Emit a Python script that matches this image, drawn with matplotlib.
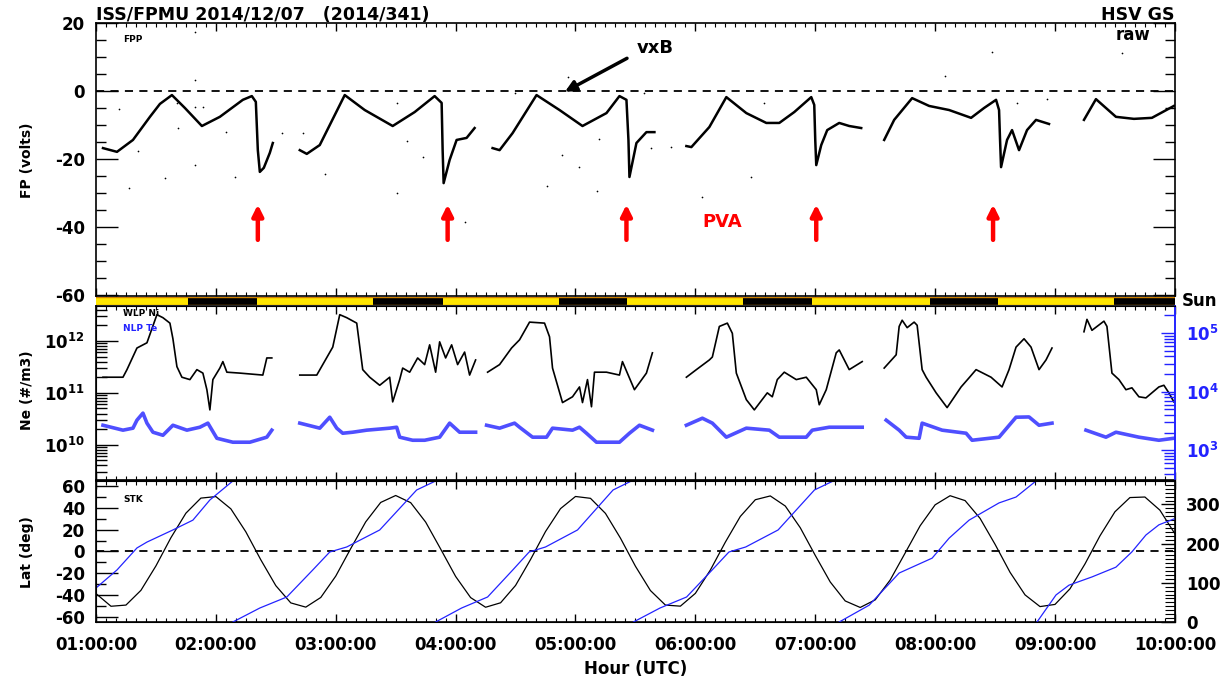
import numpy as np
import matplotlib
matplotlib.use("Agg")
import matplotlib.pyplot as plt
from matplotlib.ticker import MultipleLocator, FixedLocator, FixedFormatter, FuncFormatter, NullFormatter

plt.rcParams['font.family'] = 'DejaVu Sans'
plt.rcParams['font.weight'] = 'bold'
plt.rcParams['axes.unicode_minus'] = False

BLUE = '#2323ff'

# ── data (time = minutes after 01:00:00 UTC) ─────────────────────
fp_min = [
    [3.5, 10.5, 18.5, 27, 32, 38, 44.5, 53, 62, 73.5, 78, 80, 81, 82, 84, 87, 88.5],
    [102, 105.5, 112, 124.5, 134.5, 148.5, 159.5, 169.5, 173, 173.5, 174, 177, 180.5, 185.5, 189.5],
    [198.5, 202, 208.5, 220.5, 232, 243.5, 255.5, 262, 265.5, 266.5, 267, 270.5, 275.5, 279.5],
    [295.5, 298, 307, 315.5, 325.5, 335.5, 342, 349.5, 358, 359.5, 360, 360.5, 363, 366, 372, 377, 383],
    [394.5, 399.5, 408.5, 417, 427, 438, 444.5, 450.5, 452, 452.5, 453, 456, 458.5, 462, 466, 470.5, 477],
    [494.5, 500.5, 510.5, 519.5, 528.5, 539.5],
]
fp_volts = [
    [-16.8, -17.9, -14.4, -7.6, -3.8, -1.2, -5.0, -10.3, -7.6, -2.6, -1.5, -3.2, -17.4, -23.8, -22.6, -18.2, -15.3],
    [-17.4, -18.5, -15.9, -1.2, -5.6, -10.3, -6.2, -1.5, -3.5, -17.4, -27.1, -20.3, -14.4, -13.8, -10.9],
    [-16.8, -17.4, -12.4, -1.2, -5.6, -10.3, -6.5, -1.5, -2.6, -14.4, -25.3, -15.3, -12.1, -12.1],
    [-16.2, -16.5, -10.6, -1.8, -6.5, -9.4, -9.4, -6.2, -1.8, -4.1, -14.4, -21.8, -15.9, -11.5, -9.4, -10.3, -10.9],
    [-14.4, -8.5, -2.1, -4.4, -5.6, -7.9, -5.0, -2.6, -5.6, -14.4, -22.4, -14.4, -11.5, -17.4, -11.5, -8.5, -9.7],
    [-8.5, -2.4, -7.6, -8.2, -7.9, -4.4],
]
# stray FP samples
dot_min = [11.5, 21, 40.5, 41, 49.5, 53.5, 65, 49.5, 34.5, 16.5, 69.5, 93, 103.5, 114.5, 49.5, 49.5,
           150.5, 155.5, 163.5, 150.5, 184.5, 209.5, 233, 242, 225.5, 251, 236, 252, 288, 278,
           303.5, 328, 334.5, 274.5, 448.5, 425, 513.5, 461, 476]
dot_volts = [-5.3, -17.6, -3.5, -10.9, -4.7, -4.7, -12.1, -21.8, -25.6, -28.5, -25.3, -12.4, -12.4, -24.4, 17.4, 3.2,
             -3.5, -14.7, -19.4, -30, -38.5, -0.6, -18.8, -22.4, -27.9, -29.4, 4.1, -14.1, -16.5, -16.8,
             -31.2, -25.3, -3.5, -0.6, 11.5, 4.4, 11.2, -3.5, -2.4]

pva_min = [81, 176, 265.5, 360.5, 449]

sun_edges = [0, 46, 80.5, 138.5, 173.5, 231.5, 266, 324, 358.5, 417.5, 451.5, 509.5, 540]
sun_lit = [True, False, True, False, True, False, True, False, True, False, True, False]

ne_min = [
    [3.5, 13.5, 15.5, 20.5, 25.5, 29.5, 30.5, 33.5, 37, 38.5, 40.5, 43, 47, 50.5, 53.5, 55.5, 57, 58.5, 62, 63.5, 65.5, 72, 83.5, 85.5, 88],
    [102, 110.5, 118.5, 122, 125.5, 130.5, 133.5, 137, 142, 147, 148.5, 152, 153.5, 157, 161, 164.5, 167, 170, 172, 175, 178, 181, 184.5, 187, 190],
    [196, 202, 208, 212, 217, 224.5, 227, 228.5, 233.5, 238.5, 242, 243.5, 246, 248, 249.5, 255.5, 262, 263.5, 269.5, 275.5, 278.5],
    [295.5, 300.5, 307, 308.5, 312, 316, 318.5, 320.5, 325.5, 329.5, 336, 338.5, 341, 344.5, 350.5, 355.5, 360.5, 362, 365.5, 370.5, 372, 377, 383.5],
    [394.5, 400.5, 402, 403.5, 406, 409.5, 411, 413.5, 415.5, 420.5, 426, 433, 437, 440.5, 448, 453.5, 457, 460.5, 464.5, 468, 472, 475.5, 478.5],
    [494.5, 496, 498.5, 504.5, 506, 508.5, 512, 515.5, 518.5, 522, 525.5, 532, 534.5, 537, 539.5],
]
ne_m3 = [
    [2.0e11, 2.0e11, 2.8e11, 7.3e11, 9.2e11, 2.5e12, 3.2e12, 2.8e12, 2.2e12, 1.1e12, 3.2e11, 2.0e11, 1.8e11,
     2.8e11, 2.4e11, 1.15e11, 4.7e10, 1.8e11, 3.0e11, 4.0e11, 2.5e11, 2.4e11, 2.2e11, 4.7e11, 4.7e11],
    [2.2e11, 2.2e11, 7.6e11, 3.2e12, 2.8e12, 2.2e12, 2.8e11, 2.0e11, 1.4e11, 2.0e11, 6.7e10, 1.8e11, 3.0e11,
     2.5e11, 4.7e11, 3.5e11, 8.4e11, 2.5e11, 9.6e11, 4.7e11, 8.4e11, 3.5e11, 6.1e11, 2.2e11, 4.3e11],
    [2.5e11, 3.5e11, 7.3e11, 1.05e12, 2.3e12, 2.2e12, 1.2e12, 3.0e11, 6.5e10, 8.4e10, 1.3e11, 6.5e10, 1.8e11,
     5.4e10, 2.5e11, 2.5e11, 2.2e11, 4.0e11, 1.15e11, 2.4e11, 5.9e11],
    [2.0e11, 2.8e11, 4.3e11, 4.9e11, 1.9e12, 2.2e12, 1.4e12, 2.4e11, 7.4e10, 4.7e10, 1.0e11, 8.4e10, 1.8e11,
     2.5e11, 1.8e11, 2.0e11, 1.15e11, 5.9e10, 1.15e11, 5.9e11, 6.7e11, 2.8e11, 4.0e11],
    [3.0e11, 5.4e11, 1.9e12, 2.5e12, 1.8e12, 2.3e12, 2.0e12, 2.8e11, 2.0e11, 1.0e11, 5.2e10, 1.3e11, 1.95e11,
     2.8e11, 2.0e11, 1.3e11, 2.8e11, 7.6e11, 1.1e12, 7.6e11, 2.8e11, 4.3e11, 7.3e11],
    [1.5e12, 2.6e12, 1.6e12, 2.4e12, 1.9e12, 2.4e11, 1.8e11, 1.15e11, 1.25e11, 8.4e10, 8.0e10, 1.3e11, 1.4e11,
     1.0e11, 6.7e10],
]

te_min = [
    [3.5, 13.5, 18.5, 20.5, 23.5, 25.5, 28.5, 33.5, 38.5, 45.5, 52, 56, 60.5, 68.5, 77, 85.5, 88],
    [102, 112, 117, 120.5, 123.5, 128.5, 135.5, 147, 150.5, 152, 158.5, 164.5, 172, 177, 182, 190],
    [195.5, 202, 209.5, 212, 218.5, 225.5, 228.5, 238.5, 242, 245.5, 250.5, 262, 267, 272, 278.5],
    [295.5, 303.5, 308.5, 315.5, 325.5, 337, 342, 355.5, 358.5, 367, 383.5],
    [395.5, 402, 405.5, 412, 413.5, 423.5, 435.5, 438.5, 452, 460.5, 467, 472, 478.5],
    [495.5, 505.5, 510.5, 522, 532, 539.5],
]
te_kelvin = [
    [2670, 2200, 2380, 3260, 4300, 2900, 2030, 1800, 2670, 2200, 2470, 2900, 1600, 1370, 1370, 1670, 2200],
    [2900, 2380, 3660, 2380, 1950, 2030, 2200, 2380, 2470, 1670, 1480, 1480, 1670, 2900, 2030, 2030],
    [2670, 2380, 2900, 2470, 1670, 1670, 2380, 2200, 2470, 1950, 1370, 1370, 1950, 2670, 2200],
    [2670, 3520, 2900, 1670, 2380, 2200, 1670, 1670, 2200, 2470, 2470],
    [3260, 2200, 1670, 1600, 2900, 2200, 1950, 1480, 1670, 3660, 3700, 2670, 2900],
    [2200, 1670, 2030, 1670, 1480, 1600],
]

# latitude sampled every 7.5 min
lat_min = np.arange(0, 541, 7.5)
lat_deg = [-38.8, -50.5, -49.4, -35.8, -13.3, 12.7, 35.3, 49.2, 50.6, 39.3, 18.1, -7.7, -31.5,
           -47.4, -51.3, -42.4, -22.7, 2.7, 27.3, 45.2, 51.6, 45.0, 27.1, 2.3, -23.0, -42.5,
           -51.4, -47.3, -31.3, -7.4, 18.4, 39.5, 50.7, 49.0, 35.1, 12.3, -13.6, -36.0, -49.4,
           -50.4, -38.6, -17.1, 8.6, 32.3, 47.7, 51.2, 41.9, 21.9, -3.6, -28.1, -45.6, -51.6,
           -44.6, -26.3, -1.4, 23.7, 43.0, 51.4, 46.9, 30.5, 6.6, -19.2, -40.0, -50.8, -48.8,
           -34.4, -11.5, 14.4, 36.6, 49.7, 50.2, 38.1, 16.4]

lon_min = [
    [0, 10.5, 20.5, 25.5, 38.5, 48.5, 57, 68.5],
    [68.5, 82, 95.5, 108.5, 117, 125.5, 142, 160.5, 170],
    [170, 183, 196, 208.6, 216.8, 225, 241, 258.8, 268],
    [269, 282.3, 295.6, 308.4, 316.8, 325.2, 341.4, 359.6, 369],
    [372, 387, 402, 418.5, 427, 437, 452, 460.5, 470.5],
    [471, 480.5, 487, 498.5, 510.5, 518.5, 525.5, 532, 539.5],
]
lon_deg = [
    [86.8, 132.8, 189, 204, 235, 260, 311.5, 360],
    [0, 35.7, 63.8, 132.8, 178.7, 191.5, 234.9, 337, 360],
    [0, 35.7, 63.8, 132.8, 178.7, 191.5, 234.9, 337, 360],
    [0, 35.7, 63.8, 132.8, 178.7, 191.5, 234.9, 337, 360],
    [0, 43, 125, 163, 214, 260, 304, 319, 360],
    [0, 69, 94, 115, 140, 179, 222, 248, 263],
]


def hrs(m):
    return 1 + np.asarray(m, dtype=float) / 60.0


# ── figure / axes ────────────────────────────────────────────────
fig = plt.figure(figsize=(12.26, 6.8), dpi=100)
L, W = 0.0783, 0.880
ax1 = fig.add_axes([L, 0.5647, W, 0.4015])
axs = fig.add_axes([L, 0.5515, W, 0.0117])
ax2 = fig.add_axes([L, 0.2941, W, 0.2559])
ax3 = fig.add_axes([L, 0.0853, W, 0.2074])

for ax in (ax1, ax2, ax3):
    ax.set_xlim(1, 10)
    ax.xaxis.set_major_locator(MultipleLocator(1))
    ax.xaxis.set_minor_locator(MultipleLocator(1 / 12))
    ax.tick_params(axis='x', which='major', direction='in', length=6, width=1, top=True, bottom=True)
    ax.tick_params(axis='x', which='minor', direction='in', length=3, width=0.8, top=True, bottom=True)
    ax.xaxis.set_major_formatter(NullFormatter())
    for s in ax.spines.values():
        s.set_linewidth(1.2)

# ── top panel: floating potential ────────────────────────────────
for t, v in zip(fp_min, fp_volts):
    ax1.plot(hrs(t), v, color='k', lw=1.8)
ax1.scatter(hrs(dot_min), dot_volts, s=1.5, color='k', lw=0)
ax1.axhline(0, color='k', lw=1.3, ls=(0, (4.5, 3.5)))
ax1.set_ylim(-60.3, 20)
ax1.yaxis.set_major_locator(FixedLocator([-60, -40, -20, 0, 20]))
ax1.yaxis.set_minor_locator(MultipleLocator(5))
ax1.tick_params(axis='y', which='major', direction='in', length=16, width=1, left=True, right=True,
                labelsize=12, pad=8)
ax1.tick_params(axis='y', which='minor', direction='in', length=7, width=1, left=True, right=True)

for m in pva_min:
    ax1.annotate('', xy=(hrs(m), -32.6), xytext=(hrs(m), -44.6),
                 arrowprops=dict(arrowstyle='-|>', color='red', lw=3.2, mutation_scale=16))
ax1.text(hrs(313.5), -38.5, 'PVA', color='red', fontsize=13, ha='center', va='center')
ax1.annotate('', xy=(hrs(233.5), -0.6), xytext=(hrs(267), 10),
             arrowprops=dict(arrowstyle='-|>', color='k', lw=2.5, mutation_scale=16))
ax1.text(hrs(280), 12.6, 'vxB', fontsize=13, ha='center', va='center')
ax1.text(0.025, 0.94, 'FPP', transform=ax1.transAxes, fontsize=6.5, va='center')
ax1.text(0.977, 0.955, 'raw', transform=ax1.transAxes, fontsize=12, ha='right', va='center')

# ── sunlight bar ─────────────────────────────────────────────────
for i, lit in enumerate(sun_lit):
    x0, x1 = hrs(sun_edges[i]), hrs(sun_edges[i + 1])
    axs.axvspan(x0, x1, color='#ffe600' if lit else 'k', lw=0)
axs.axhline(1, color='#d08000', lw=1)
axs.axhline(0, color='#d08000', lw=1)
axs.set_xlim(1, 10)
axs.set_ylim(0, 1)
axs.axis('off')
fig.text(L + W + 0.006, 0.5575, 'Sun', fontsize=12, ha='left', va='center')

# ── middle panel: density and temperature ────────────────────────
for t, v in zip(ne_min, ne_m3):
    ax2.plot(hrs(t), v, color='k', lw=1.2)
ax2.set_yscale('log')
ax2.set_ylim(2.1e9, 4.7e12)
ax2.yaxis.set_major_locator(FixedLocator([1e10, 1e11, 1e12]))
ax2.yaxis.set_major_formatter(FixedFormatter([r'$\mathbf{10^{10}}$', r'$\mathbf{10^{11}}$', r'$\mathbf{10^{12}}$']))
ax2.yaxis.set_minor_locator(FixedLocator([k * 10.0 ** e for e in (9, 10, 11, 12) for k in range(2, 10)]))
ax2.yaxis.set_minor_formatter(NullFormatter())
ax2.tick_params(axis='y', which='major', direction='in', length=16, width=1, right=False, labelsize=12, pad=8)
ax2.tick_params(axis='y', which='minor', direction='in', length=8, width=1, right=False)
ax2.spines['right'].set_color(BLUE)

ax2r = ax2.twinx()
for t, v in zip(te_min, te_kelvin):
    ax2r.plot(hrs(t), v, color=BLUE, lw=2.6, alpha=0.8, solid_joinstyle='round')
ax2r.set_yscale('log')
ax2r.set_ylim(310, 2.9e5)
ax2r.yaxis.set_major_locator(FixedLocator([1e3, 1e4, 1e5]))
ax2r.yaxis.set_major_formatter(FixedFormatter([r'$\mathbf{10^{3}}$', r'$\mathbf{10^{4}}$', r'$\mathbf{10^{5}}$']))
ax2r.yaxis.set_minor_locator(FixedLocator([k * 10.0 ** e for e in (2, 3, 4, 5) for k in range(2, 10)]))
ax2r.yaxis.set_minor_formatter(NullFormatter())
ax2r.tick_params(axis='y', which='major', direction='in', length=10, width=1, colors=BLUE, labelsize=12, pad=8)
ax2r.tick_params(axis='y', which='minor', direction='in', length=8, width=1, colors=BLUE)
ax2r.spines['right'].set_color(BLUE)
ax2r.spines['right'].set_linewidth(1.2)
ax2.text(0.025, 0.955, 'WLP Ni', transform=ax2.transAxes, fontsize=6.5, va='center')
ax2.text(0.025, 0.87, 'NLP Te', transform=ax2.transAxes, fontsize=6.5, va='center', color=BLUE)

# ── bottom panel: ephemeris ──────────────────────────────────────
ax3.plot(hrs(lat_min), lat_deg, color='k', lw=0.9)
ax3.axhline(0, color='k', lw=1.3, ls=(0, (4.5, 3.5)))
ax3.set_ylim(-65, 65)
ax3.yaxis.set_major_locator(MultipleLocator(20))
ax3.yaxis.set_minor_locator(MultipleLocator(10))
ax3.tick_params(axis='y', which='major', direction='in', length=16, width=1, right=False, labelsize=12, pad=8)
ax3.tick_params(axis='y', which='minor', direction='in', length=7, width=1, right=False)
ax3.xaxis.set_major_formatter(FuncFormatter(lambda h, p: f"{int(round(h)):02d}:00:00"))
ax3.tick_params(axis='x', which='major', labelsize=12, pad=10)

ax3r = ax3.twinx()
for t, v in zip(lon_min, lon_deg):
    ax3r.plot(hrs(t), v, color=BLUE, lw=0.9)
ax3r.set_ylim(0, 360)
ax3r.yaxis.set_major_locator(MultipleLocator(100))
ax3r.yaxis.set_minor_locator(MultipleLocator(10))
ax3r.tick_params(axis='y', which='major', direction='in', length=10, width=1, labelsize=12, pad=8)
ax3r.tick_params(axis='y', which='minor', direction='in', length=7, width=0.8)
ax3.text(0.025, 0.87, 'STK', transform=ax3.transAxes, fontsize=6.5, va='center')

# ── labels ───────────────────────────────────────────────────────
fig.text(L, 0.9706, 'ISS/FPMU 2014/12/07   (2014/341)', fontsize=12.5, ha='left', va='baseline')
fig.text(L + W, 0.9706, 'HSV GS', fontsize=12.5, ha='right', va='baseline')
fig.text(0.022, 0.765, 'FP (volts)', rotation=90, fontsize=10, ha='center', va='center')
fig.text(0.022, 0.426, 'Ne (#/m3)', rotation=90, fontsize=10, ha='center', va='center')
fig.text(0.022, 0.188, 'Lat (deg)', rotation=90, fontsize=10, ha='center', va='center')
fig.text(L + W / 2, 0.003, 'Hour (UTC)', fontsize=12, ha='center', va='bottom')

fig.savefig('out.png', dpi=100)
